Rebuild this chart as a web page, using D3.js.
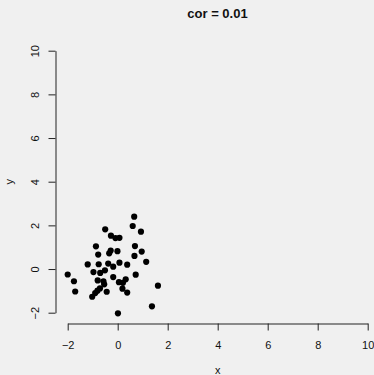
<!DOCTYPE html>
<html>
<head>
<meta charset="utf-8">
<script src="https://cdn.jsdelivr.net/npm/d3@7"></script>
<style>
  html, body { margin: 0; padding: 0; background: #f0f0f0; }
  svg { display: block; }
  text { font-family: "Liberation Sans", Arial, Helvetica, sans-serif; fill: #111; }
</style>
</head>
<body>
<svg id="chart" width="374" height="375"></svg>
<script>
// Scatter sample: x and y values of each point
const xValues = [
  0.66, 0.60, 0.93, -0.50, -0.27, -0.09, 0.07, -0.87, -0.28, -0.34,
  -0.01, 0.69, 0.96, 0.67, -0.78, 1.14, -1.20, -0.76, -0.38, -0.18,
  0.07, 0.38, -0.97, -0.70, -0.51, -0.18, 0.72, -2.00, -1.75, -0.80,
  -0.57, -0.54, 0.05, 0.32, 0.21, -1.70, -0.71, -0.81, -0.90, -1.02,
  -0.44, 0.19, 0.38, 1.61, 1.37, 0.01
];
const yValues = [
  2.40, 1.97, 1.71, 1.82, 1.53, 1.42, 1.43, 1.04, 0.85, 0.72,
  0.82, 1.05, 0.80, 0.60, 0.66, 0.33, 0.21, 0.22, 0.25, 0.11,
  0.29, 0.20, -0.14, -0.18, -0.06, -0.37, -0.26, -0.25, -0.56, -0.52,
  -0.56, -0.70, -0.60, -0.47, -0.63, -1.03, -0.89, -0.99, -1.10, -1.27,
  -1.04, -0.90, -1.08, -0.76, -1.71, -2.03
];

// Axis ticks and labels
const xTicks = [-2, 0, 2, 4, 6, 8, 10];
const xTickLabels = ["\u22122", "0", "2", "4", "6", "8", "10"];
const yTicks = [-2, 0, 2, 4, 6, 8, 10];
const yTickLabels = ["\u22122", "0", "2", "4", "6", "8", "10"];

const titleText = "cor = 0.01";
const xTitle = "x";
const yTitle = "y";

const svg = d3.select("#chart");

const x = d3.scaleLinear().domain([-2, 10]).range([67.7, 367.7]);
const y = d3.scaleLinear().domain([-2, 10]).range([312.7, 50.7]);

const axisColor = "#222";

// x axis
const gx = svg.append("g")
  .attr("transform", "translate(0,323.5)")
  .call(d3.axisBottom(x)
    .tickValues(xTicks)
    .tickFormat((d, i) => xTickLabels[i])
    .tickSizeInner(7)
    .tickSizeOuter(0)
    .tickPadding(10.2));
gx.select(".domain").attr("stroke", axisColor);
gx.selectAll(".tick line").attr("stroke", axisColor);
gx.selectAll(".tick text")
  .attr("font-size", 11)
  .attr("fill", "#111")
  .style("font-family", "'Liberation Sans', Arial, sans-serif");

// y axis with rotated labels
const gy = svg.append("g")
  .attr("transform", "translate(55.5,0)")
  .call(d3.axisLeft(y)
    .tickValues(yTicks)
    .tickFormat((d, i) => yTickLabels[i])
    .tickSizeInner(7)
    .tickSizeOuter(0));
gy.select(".domain").attr("stroke", axisColor);
gy.selectAll(".tick line").attr("stroke", axisColor);
gy.selectAll(".tick text")
  .attr("x", null)
  .attr("dy", null)
  .attr("text-anchor", "middle")
  .attr("transform", "translate(-16.2,0) rotate(-90)")
  .attr("font-size", 11)
  .attr("fill", "#111")
  .style("font-family", "'Liberation Sans', Arial, sans-serif");

// points
svg.append("g")
  .selectAll("circle")
  .data(xValues.map((v, i) => [v, yValues[i]]))
  .join("circle")
  .attr("cx", d => x(d[0]))
  .attr("cy", d => y(d[1]))
  .attr("r", 3.1)
  .attr("fill", "#000");

// title and axis titles
svg.append("text")
  .attr("x", 217.5)
  .attr("y", 17.5)
  .attr("text-anchor", "middle")
  .attr("font-size", 13)
  .attr("font-weight", "bold")
  .text(titleText);

svg.append("text")
  .attr("x", 217.7)
  .attr("y", 374)
  .attr("text-anchor", "middle")
  .attr("font-size", 11)
  .text(xTitle);

svg.append("text")
  .attr("transform", "translate(12.8,181.7) rotate(-90)")
  .attr("text-anchor", "middle")
  .attr("font-size", 11)
  .text(yTitle);
</script>
</body>
</html>
